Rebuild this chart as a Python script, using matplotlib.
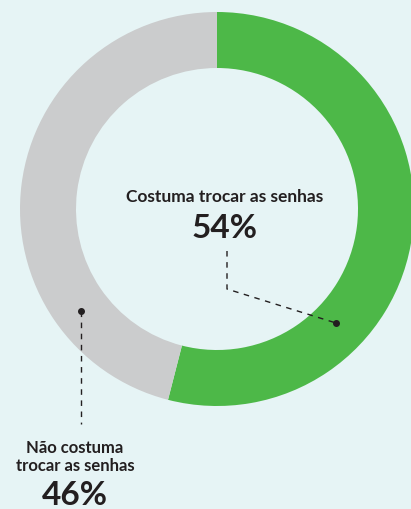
import matplotlib.pyplot as plt

# data
labels = ["Costuma trocar as senhas", "Não costuma\ntrocar as senhas"]
values = [54, 46]
colors = ["#4db848", "#cbcccd"]

bg = "#e6f4f5"
ink = "#231f20"
H = 510

fig = plt.figure(figsize=(4.11, 5.10), dpi=100, facecolor=bg)
ax = fig.add_axes([0, 0, 1, 1])
ax.set_facecolor(bg)

# work in pixel coordinates, y from the top
def py(y):
    return H - y

ax.pie(values, colors=colors, startangle=90, counterclock=False,
       center=(217, py(210)), radius=197,
       wedgeprops=dict(width=56, linewidth=0))
ax.set_xlim(0, 411)
ax.set_ylim(0, H)
ax.set_aspect("equal")
ax.axis("off")

# labels
ax.text(225, py(197), labels[0], ha="center", va="center",
        fontsize=12.5, fontfamily="Lato", fontweight="bold", color=ink)
ax.text(225, py(228), f"{values[0]}%", ha="center", va="center",
        fontsize=24, fontfamily="Lato", fontweight="bold", color=ink)
ax.text(75, py(457), labels[1], ha="center", va="center", linespacing=1.15,
        fontsize=12, fontfamily="Lato", fontweight="bold", color=ink)
ax.text(75, py(496), f"{values[1]}%", ha="center", va="center",
        fontsize=24, fontfamily="Lato", fontweight="bold", color=ink)

# leader lines
ax.plot([227, 227, 336], [py(252), py(290), py(324)], color=ink, lw=1,
        ls=(0, (4, 4)))
ax.plot([336], [py(324)], "o", color=ink, ms=4)
ax.plot([81, 81], [py(312), py(425)], color=ink, lw=1, ls=(0, (4, 4)))
ax.plot([81], [py(312)], "o", color=ink, ms=4)

fig.savefig("out.png", dpi=100, facecolor=bg)
